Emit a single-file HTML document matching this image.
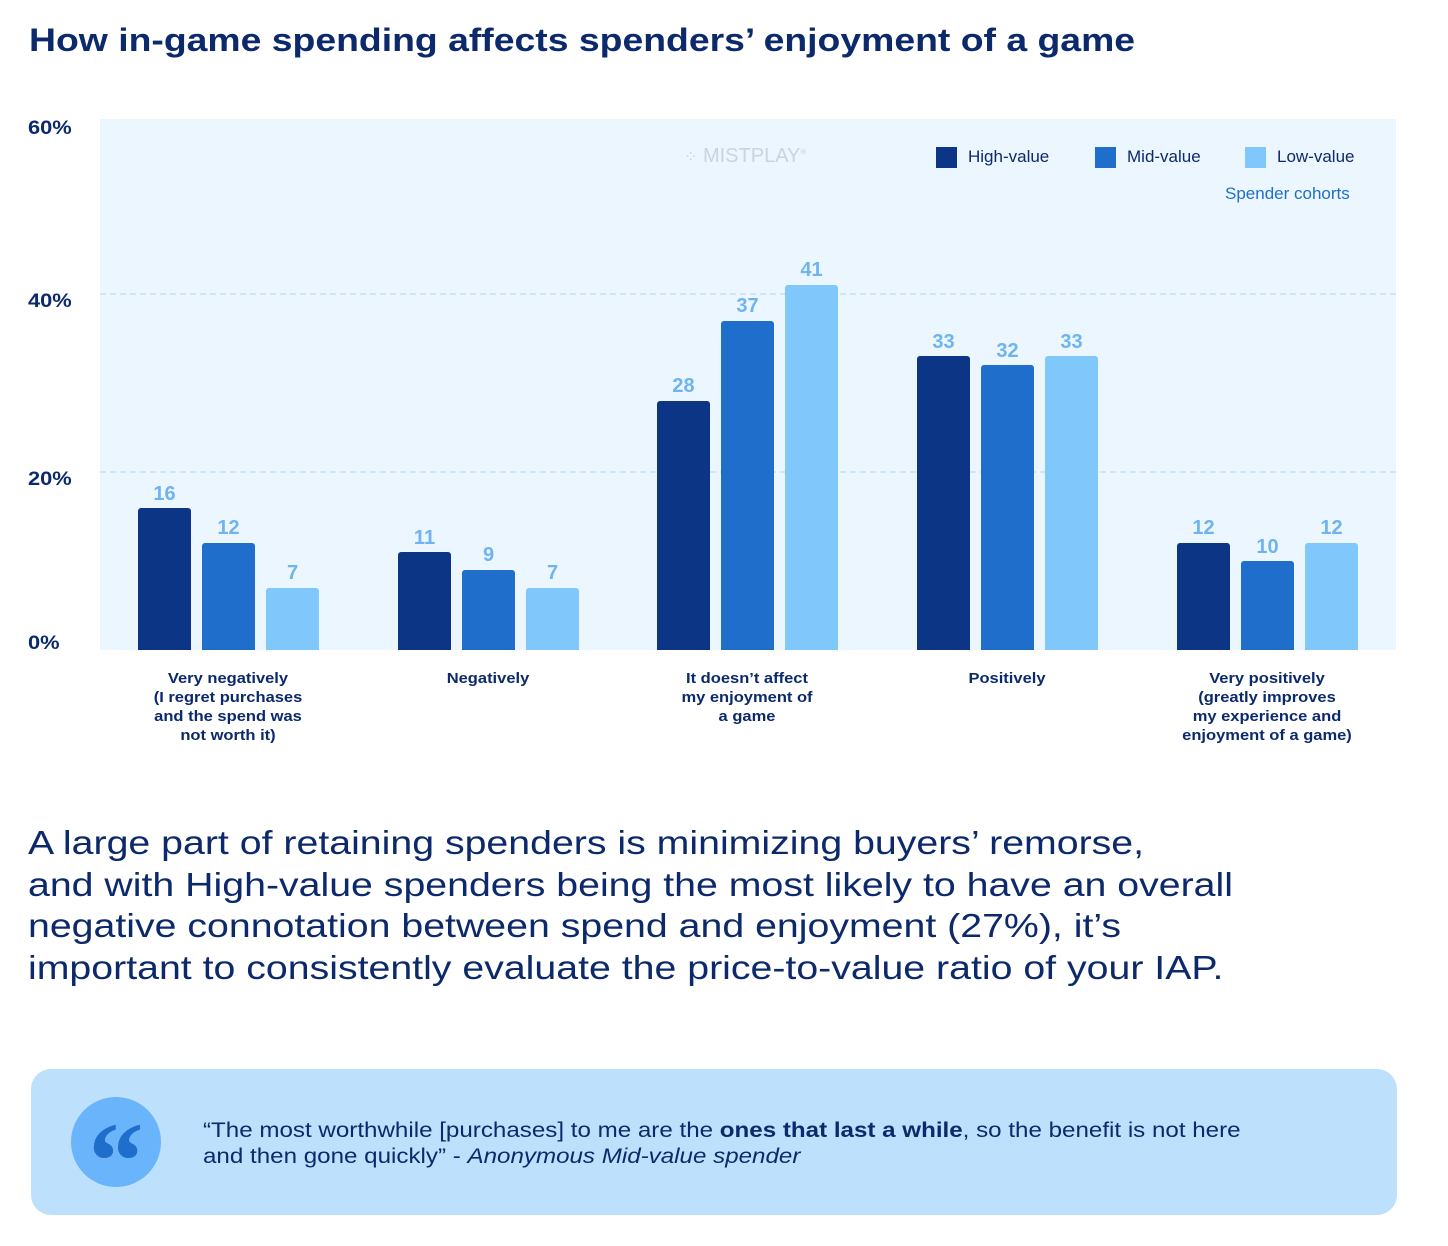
<!DOCTYPE html>
<html><head><meta charset="utf-8"><style>
*{margin:0;padding:0;box-sizing:border-box}
body{width:1448px;height:1246px;background:#fff;position:relative;font-family:"Liberation Sans",sans-serif;color:#0c2a6b;overflow:hidden}
.a{position:absolute}
.bar{position:absolute;width:53px;border-radius:3px 3px 0 0}
.h{background:#0d3586}.m{background:#1f6ecb}.l{background:#80c7fb}
.v{position:absolute;width:53px;text-align:center;font-weight:bold;font-size:20px;color:#6fb3f0}
.yl{position:absolute;left:28px;font-weight:bold;font-size:19px;transform:scaleX(1.15);transform-origin:left}
.cat{position:absolute;width:240px;text-align:center;font-size:15px;line-height:19px;font-weight:bold;color:#0c2a6b;transform:scaleX(1.1)}
.grid{position:absolute;left:100px;width:1296px;border-top:2px dashed #cfe5f8}
.lg{position:absolute;top:147px;width:21px;height:21px}
.lt{position:absolute;top:147px;font-size:17px}
</style></head><body>
<div class="a" style="left:29px;top:22px;font-size:32px;font-weight:bold;transform:scaleX(1.167);transform-origin:left;white-space:nowrap">How in-game spending affects spenders’ enjoyment of a game</div>
<div class="a" style="left:100px;top:119px;width:1296px;height:531px;background:#ecf6fe"></div>
<div class="grid" style="top:293px"></div>
<div class="grid" style="top:471px"></div>
<div class="yl" style="top:118px">60%</div>
<div class="yl" style="top:291px">40%</div>
<div class="yl" style="top:469px">20%</div>
<div class="yl" style="top:633px">0%</div>
<div class="a" style="left:684px;top:145px;color:#c8d4e4;font-size:20px;white-space:nowrap"><span style="font-size:16px">⁘</span> MISTPLAY<sup style="font-size:8px">®</sup></div>
<div class="lg h" style="left:936px"></div><div class="lt" style="left:968px">High-value</div>
<div class="lg m" style="left:1095px"></div><div class="lt" style="left:1127px">Mid-value</div>
<div class="lg l" style="left:1245px"></div><div class="lt" style="left:1277px">Low-value</div>
<div class="a" style="left:1225px;top:184px;font-size:17px;color:#1f6ecb">Spender cohorts</div>

<div class="bar h" style="left:138px;top:508px;height:142px"></div><div class="v" style="left:138px;top:483px">16</div>
<div class="bar m" style="left:202px;top:543px;height:107px"></div><div class="v" style="left:202px;top:517px">12</div>
<div class="bar l" style="left:266px;top:588px;height:62px"></div><div class="v" style="left:266px;top:562px">7</div>

<div class="bar h" style="left:398px;top:552px;height:98px"></div><div class="v" style="left:398px;top:527px">11</div>
<div class="bar m" style="left:462px;top:570px;height:80px"></div><div class="v" style="left:462px;top:544px">9</div>
<div class="bar l" style="left:526px;top:588px;height:62px"></div><div class="v" style="left:526px;top:562px">7</div>

<div class="bar h" style="left:657px;top:401px;height:249px"></div><div class="v" style="left:657px;top:375px">28</div>
<div class="bar m" style="left:721px;top:321px;height:329px"></div><div class="v" style="left:721px;top:295px">37</div>
<div class="bar l" style="left:785px;top:285px;height:365px"></div><div class="v" style="left:785px;top:259px">41</div>

<div class="bar h" style="left:917px;top:356px;height:294px"></div><div class="v" style="left:917px;top:331px">33</div>
<div class="bar m" style="left:981px;top:365px;height:285px"></div><div class="v" style="left:981px;top:340px">32</div>
<div class="bar l" style="left:1045px;top:356px;height:294px"></div><div class="v" style="left:1045px;top:331px">33</div>

<div class="bar h" style="left:1177px;top:543px;height:107px"></div><div class="v" style="left:1177px;top:517px">12</div>
<div class="bar m" style="left:1241px;top:561px;height:89px"></div><div class="v" style="left:1241px;top:536px">10</div>
<div class="bar l" style="left:1305px;top:543px;height:107px"></div><div class="v" style="left:1305px;top:517px">12</div>

<div class="cat" style="left:108px;top:669px">Very negatively<br>(I regret purchases<br>and the spend was<br>not worth it)</div>
<div class="cat" style="left:368px;top:669px">Negatively</div>
<div class="cat" style="left:627px;top:669px">It doesn’t affect<br>my enjoyment of<br>a game</div>
<div class="cat" style="left:887px;top:669px">Positively</div>
<div class="cat" style="left:1147px;top:669px">Very positively<br>(greatly improves<br>my experience and<br>enjoyment of a game)</div>

<div class="a" style="left:28px;top:822px;font-size:33px;line-height:41.5px;transform:scaleX(1.19);transform-origin:left;white-space:nowrap">A large part of retaining spenders is minimizing buyers’ remorse,<br>and with High-value spenders being the most likely to have an overall<br>negative connotation between spend and enjoyment (27%), it’s<br>important to consistently evaluate the price-to-value ratio of your IAP.</div>

<div class="a" style="left:31px;top:1069px;width:1366px;height:146px;background:#bde0fd;border-radius:20px"></div>
<div class="a" style="left:71px;top:1097px;width:90px;height:90px;border-radius:50%;background:#6ab4fb;color:#1f6ecb;font-size:110px;font-weight:bold;text-align:center;line-height:128px;font-family:'Liberation Serif',serif">“</div>
<div class="a" style="left:203px;top:1118px;font-size:21px;line-height:26px;transform:scaleX(1.15);transform-origin:left;white-space:nowrap">“The most worthwhile [purchases] to me are the <b>ones that last a while</b>, so the benefit is not here<br>and then gone quickly” - <i>Anonymous Mid-value spender</i></div>
</body></html>
